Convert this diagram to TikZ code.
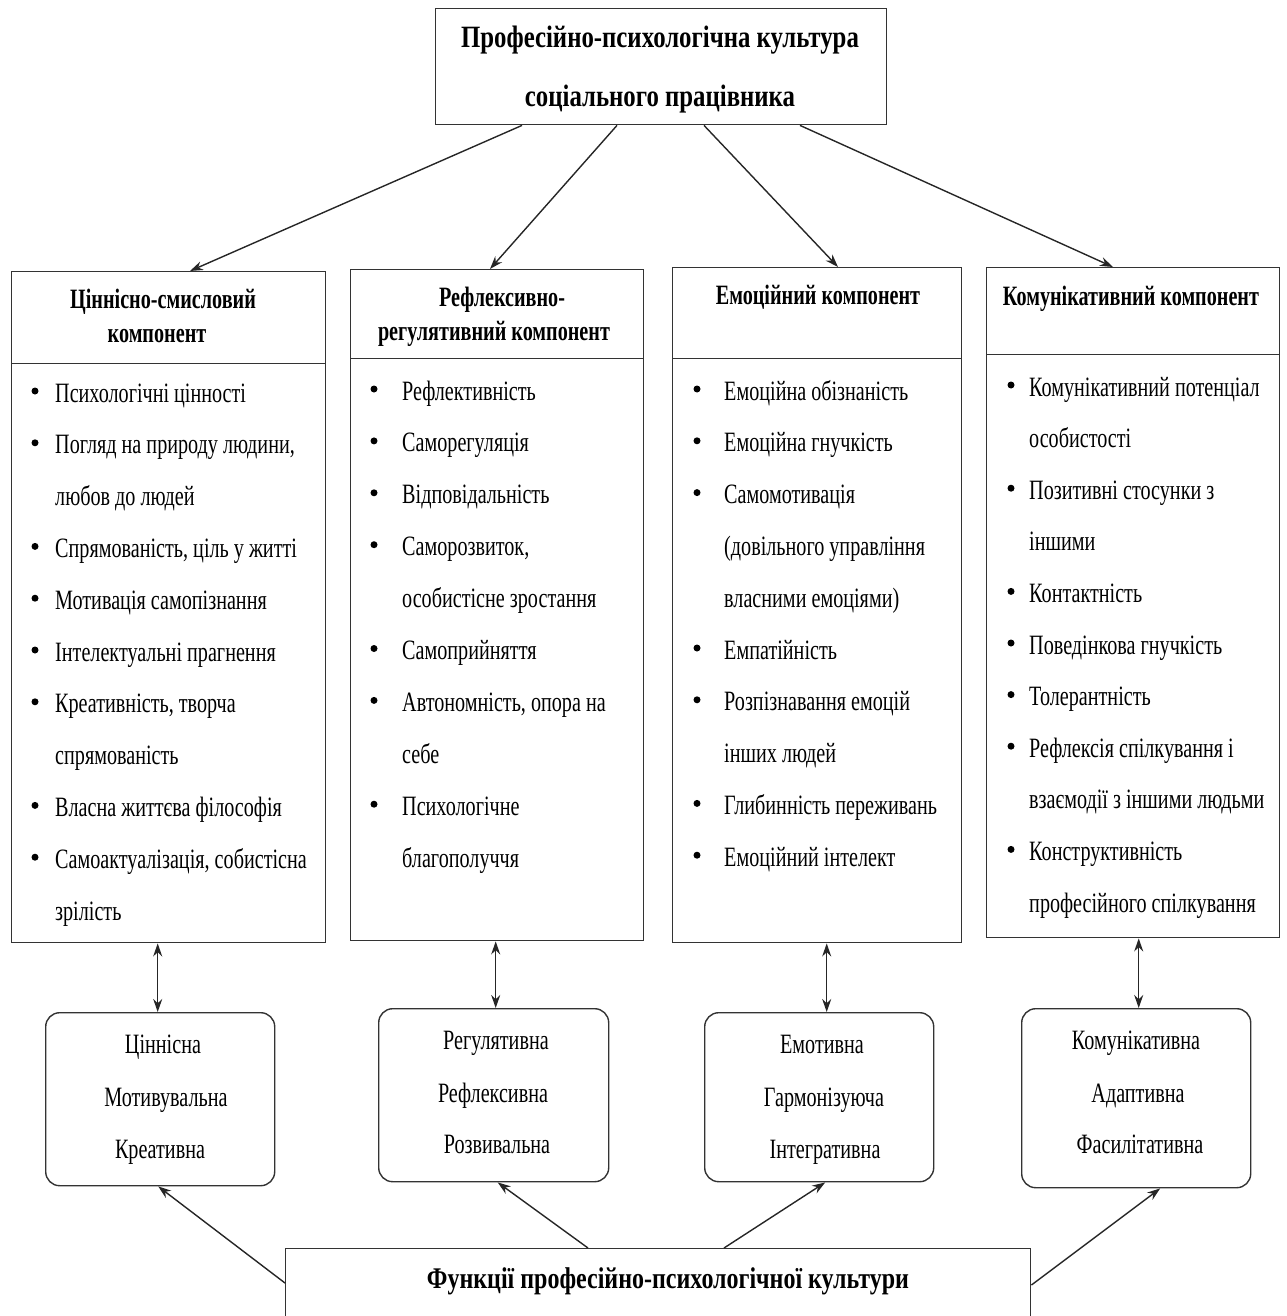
\documentclass[tikz,border=0pt]{standalone}
\usepackage{fontspec}
\setmainfont{Liberation Serif}[FakeStretch=0.72]
\newfontfamily\ttlfam{Liberation Serif}[FakeStretch=0.8]
\usetikzlibrary{arrows.meta,calc}
\definecolor{boxc}{HTML}{333333}
\tikzset{
 frame/.style={draw=boxc, line width=1.4pt, inner sep=0pt, anchor=north west},
 rframe/.style={frame, rounded corners=14pt},
 ttl/.style={font=\ttlfam\fontsize{31}{36}\selectfont\bfseries, anchor=base, inner sep=0pt},
 hdr/.style={font=\fontsize{28}{34}\selectfont\bfseries, anchor=base, inner sep=0pt},
 lst/.style={font=\fontsize{28}{34}\selectfont, anchor=base west, inner sep=0pt},
 fn/.style={font=\fontsize{28}{34}\selectfont, anchor=base, inner sep=0pt},
 arr/.style={line width=1.4pt, draw=black!85, -{Stealth[length=13pt,width=9pt]}},
 darr/.style={line width=1.4pt, draw=black!85, {Stealth[length=13pt,width=9pt]}-{Stealth[length=13pt,width=9pt]}},
 dot/.style={circle, fill=black, inner sep=0pt, minimum size=7pt}
}
\begin{document}
\begin{tikzpicture}[x=1pt,y=-1pt]
\useasboundingbox (0,0) rectangle (1286,1316);
\clip (0,0) rectangle (1286,1316);
% top box
\node[frame, minimum width=451pt, minimum height=116pt] (top) at (435,8) {};
\node[ttl] (t1) at (660,48) {Професійно-психологічна культура};
\node[ttl] (t2) at (660,107) {соціального працівника};

% column frames
\node[frame, minimum width=314pt, minimum height=92pt] (c1h) at (11,271) {};
\node[frame, minimum width=314pt, minimum height=579pt] (c1b) at (11,363) {};
\node[frame, minimum width=293pt, minimum height=89pt] (c2h) at (350,269) {};
\node[frame, minimum width=293pt, minimum height=582pt] (c2b) at (350,358) {};
\node[frame, minimum width=289pt, minimum height=91pt] (c3h) at (672,267) {};
\node[frame, minimum width=289pt, minimum height=584pt] (c3b) at (672,358) {};
\node[frame, minimum width=293pt, minimum height=87pt] (c4h) at (986,267) {};
\node[frame, minimum width=293pt, minimum height=583pt] (c4b) at (986,354) {};

% headers
\node[hdr] (h1a) at (163,308) {Ціннісно-смисловий};
\node[hdr] (h1b) at (157,342) {компонент};
\node[hdr] (h2a) at (502,306) {Рефлексивно-};
\node[hdr] (h2b) at (494,340) {регулятивний компонент};
\node[hdr] (h3a) at (818,304) {Емоційний компонент};
\node[hdr] (h4a) at (1131,305) {Комунікативний компонент};

% lists
\foreach \t/\b [count=\i from 0] in {
 {Психологічні цінності}/1,
 {Погляд на природу людини,}/1,
 {любов до людей}/0,
 {Спрямованість, ціль у житті}/1,
 {Мотивація самопізнання}/1,
 {Інтелектуальні прагнення}/1,
 {Креативність, творча}/1,
 {спрямованість}/0,
 {Власна життєва філософія}/1,
 {Самоактуалізація, собистісна}/1,
 {зрілість}/0}{
 \node[lst] (la\i) at (55,{402+\i*51.8}) {\t};
 \ifnum\b=1 \node[dot] (da\i) at (35,{391+\i*51.8}) {};\fi
}
\foreach \t/\b [count=\i from 0] in {
 {Рефлективність}/1,
 {Саморегуляція}/1,
 {Відповідальність}/1,
 {Саморозвиток,}/1,
 {особистісне зростання}/0,
 {Самоприйняття}/1,
 {Автономність, опора на}/1,
 {себе}/0,
 {Психологічне}/1,
 {благополуччя}/0}{
 \node[lst] (lb\i) at (402,{400+\i*51.9}) {\t};
 \ifnum\b=1 \node[dot] (db\i) at (374,{389+\i*51.9}) {};\fi
}
\foreach \t/\b [count=\i from 0] in {
 {Емоційна обізнаність}/1,
 {Емоційна гнучкість}/1,
 {Самомотивація}/1,
 {(довільного управління}/0,
 {власними емоціями)}/0,
 {Емпатійність}/1,
 {Розпізнавання емоцій}/1,
 {інших людей}/0,
 {Глибинність переживань}/1,
 {Емоційний інтелект}/1}{
 \node[lst] (lc\i) at (724,{400+\i*51.8}) {\t};
 \ifnum\b=1 \node[dot] (dc\i) at (697,{389+\i*51.8}) {};\fi
}
\foreach \t/\b [count=\i from 0] in {
 {Комунікативний потенціал}/1,
 {особистості}/0,
 {Позитивні стосунки з}/1,
 {іншими}/0,
 {Контактність}/1,
 {Поведінкова гнучкість}/1,
 {Толерантність}/1,
 {Рефлексія спілкування і}/1,
 {взаємодії з іншими людьми}/0,
 {Конструктивність}/1,
 {професійного спілкування}/0}{
 \node[lst] (ld\i) at (1029,{396+\i*51.6}) {\t};
 \ifnum\b=1 \node[dot] (dd\i) at (1011,{385+\i*51.6}) {};\fi
}

% function boxes
\node[rframe, minimum width=229pt, minimum height=173pt] (f1) at (45,1012) {};
\node[rframe, minimum width=230pt, minimum height=173pt] (f2) at (378,1008) {};
\node[rframe, minimum width=229pt, minimum height=169pt] (f3) at (704,1012) {};
\node[rframe, minimum width=229pt, minimum height=179pt] (f4) at (1021,1008) {};

\node[fn] (f1a) at (163,1053) {Ціннісна};
\node[fn] (f1b) at (166,1106) {Мотивувальна};
\node[fn] (f1c) at (160,1158) {Креативна};
\node[fn] (f2a) at (496,1049) {Регулятивна};
\node[fn] (f2b) at (493,1102) {Рефлексивна};
\node[fn] (f2c) at (497,1153) {Розвивальна};
\node[fn] (f3a) at (822,1053) {Емотивна};
\node[fn] (f3b) at (824,1106) {Гармонізуюча};
\node[fn] (f3c) at (825,1158) {Інтегративна};
\node[fn] (f4a) at (1136,1049) {Комунікативна};
\node[fn] (f4b) at (1138,1102) {Адаптивна};
\node[fn] (f4c) at (1140,1153) {Фасилітативна};

% bottom box
\node[frame, minimum width=745pt, minimum height=72pt] (fb) at (285,1248) {};
\node[ttl, font=\ttlfam\fontsize{30}{36}\selectfont\bfseries] (fbt) at (668,1288) {Функції професійно-психологічної культури};

% arrows from top
\draw[arr] ([xshift=87pt]top.south west) -- ([xshift=179pt]c1h.north west);
\draw[arr] ([xshift=182pt]top.south west) -- ([xshift=140pt]c2h.north west);
\draw[arr] ([xshift=269pt]top.south west) -- ([xshift=166pt]c3h.north west);
\draw[arr] ([xshift=365pt]top.south west) -- ([xshift=127pt]c4h.north west);

% double arrows
\draw[darr] ([xshift=-2.5pt]f1.north |- c1b.south) -- ([xshift=-2.5pt]f1.north);
\draw[darr] ([xshift=2pt]f2.north |- c2b.south) -- ([xshift=2pt]f2.north);
\draw[darr] ([xshift=7.5pt]f3.north |- c3b.south) -- ([xshift=7.5pt]f3.north);
\draw[darr] ([xshift=2.5pt]f4.north |- c4b.south) -- ([xshift=2.5pt]f4.north);

% arrows from bottom
\draw[arr] ([yshift=-35pt]fb.north west) -- ([xshift=-2pt]f1.south);
\draw[arr] ([xshift=303pt]fb.north west) -- ([xshift=4pt]f2.south);
\draw[arr] ([xshift=439pt]fb.north west) -- ([xshift=6pt]f3.south);
\draw[arr] ([yshift=-37pt]fb.north east) -- ([xshift=24pt]f4.south);
\end{tikzpicture}
\end{document}
